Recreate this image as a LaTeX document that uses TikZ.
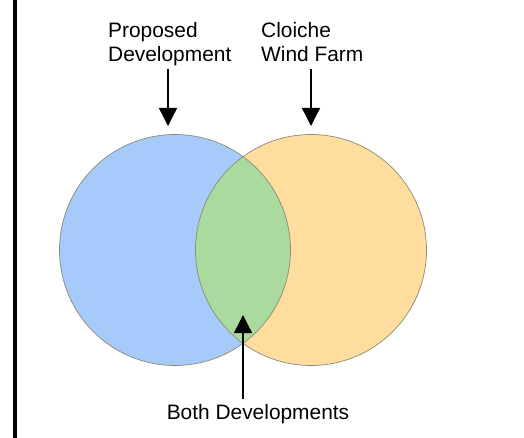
\documentclass[tikz,border=0pt]{standalone}
\usepackage{fontspec}
\setmainfont{Liberation Sans}
\usetikzlibrary{arrows.meta}
\definecolor{vblue}{HTML}{A6CBFA}
\definecolor{vorange}{HTML}{FFDD9E}
\definecolor{vgreen}{HTML}{ABDA9E}
\definecolor{vline}{HTML}{8A8A7A}
\tikzset{
  lbl/.style={inner sep=0pt, align=left, font=\fontsize{20.9}{24}\selectfont},
  arr/.style={line width=1.3pt, -{Triangle[width=18pt,length=18pt]}},
  ring/.style={circle, minimum size=231pt, inner sep=0pt},
}
\begin{document}
\begin{tikzpicture}[x=1pt,y=-1pt]
\useasboundingbox (0,0) rectangle (524,438);
\fill[white] (0,0) rectangle (524,438);
\fill[black] (13,0) rectangle (17,438);
% circles
\fill[vblue] (175,250) circle (115.5);
\fill[vorange] (311,250) circle (115.5);
\begin{scope}
\clip (175,250) circle (115.5);
\fill[vgreen] (311,250) circle (115.5);
\end{scope}
\node[ring, draw=vline, line width=0.7pt] (blue) at (175,250) {};
\node[ring, draw=vline, line width=0.7pt] (orange) at (311,250) {};
% labels
\node[lbl, anchor=north west] (pd) at (108,22) {Proposed\\Development};
\node[lbl, anchor=north west] (cw) at (261,22) {Cloiche\\Wind Farm};
\node[lbl, anchor=base] (both) at (258,419) {Both Developments};
% arrow ends
\coordinate (a1s) at (168,69);
\coordinate (a1e) at (168,126);
\coordinate (a2s) at (311,69);
\coordinate (a2e) at (311,126);
\coordinate (a3s) at (243,399);
\coordinate (a3e) at (243,315);
\draw[arr] (a1s) -- (a1e);
\draw[arr] (a2s) -- (a2e);
\draw[arr] (a3s) -- (a3e);
\end{tikzpicture}
\end{document}
